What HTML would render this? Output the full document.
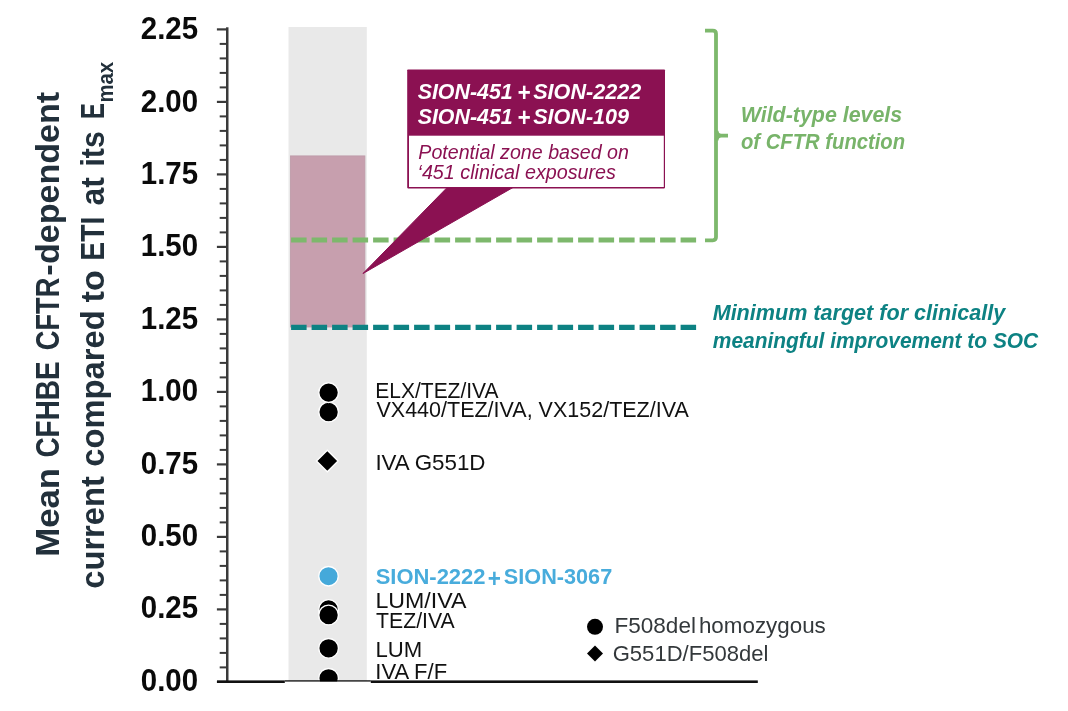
<!DOCTYPE html>
<html><head><meta charset="utf-8"><title>Chart</title>
<style>
html,body{margin:0;padding:0;background:#ffffff;}
body{width:1068px;height:711px;overflow:hidden;font-family:"Liberation Sans",sans-serif;}
svg{display:block;position:absolute;left:0;top:0;will-change:transform;}
svg text{font-family:"Liberation Sans",sans-serif;white-space:pre;}
</style></head>
<body>
<svg width="1068" height="711" viewBox="0 0 1068 711">
<defs><clipPath id="cpx"><rect x="370" y="640" width="200" height="40.4"/></clipPath></defs>
<rect x="288.5" y="27" width="78.3" height="654" fill="#e9e9e9"/>
<rect x="290.4" y="155.9" width="74.5" height="171.1" fill="#c79fae" stroke="#bd9aa8" stroke-width="0.8"/>
<line x1="291.1" y1="240.1" x2="697" y2="240.1" stroke="#7db86c" stroke-width="5" stroke-dasharray="15.5 5"/>
<line x1="291.1" y1="327.4" x2="697" y2="327.4" stroke="#0d8283" stroke-width="5.2" stroke-dasharray="15.5 5"/>
<path d="M705 30.6 H712.8 Q716 30.6 716 33.8 V237.1 Q716 240.3 712.8 240.3 H705" fill="none" stroke="#7db86c" stroke-width="3.8" stroke-linejoin="round"/>
<path d="M716.6 130.8 Q716.6 135.6 721.4 135.6 H728 M716.6 140.4 Q716.6 135.6 721.4 135.6" fill="none" stroke="#7db86c" stroke-width="3.8" stroke-linejoin="round"/>
<rect x="226" y="27.3" width="2.5" height="655.6" fill="#3a3a3a"/>
<rect x="216.9" y="28.30" width="10" height="2.2" fill="#3a3a3a"/>
<rect x="219.7" y="42.90" width="7" height="2.0" fill="#3a3a3a"/>
<rect x="219.7" y="57.40" width="7" height="2.0" fill="#3a3a3a"/>
<rect x="219.7" y="71.90" width="7" height="2.0" fill="#3a3a3a"/>
<rect x="219.7" y="86.40" width="7" height="2.0" fill="#3a3a3a"/>
<rect x="216.9" y="100.80" width="10" height="2.2" fill="#3a3a3a"/>
<rect x="219.7" y="115.40" width="7" height="2.0" fill="#3a3a3a"/>
<rect x="219.7" y="129.90" width="7" height="2.0" fill="#3a3a3a"/>
<rect x="219.7" y="144.40" width="7" height="2.0" fill="#3a3a3a"/>
<rect x="219.7" y="158.90" width="7" height="2.0" fill="#3a3a3a"/>
<rect x="216.9" y="173.30" width="10" height="2.2" fill="#3a3a3a"/>
<rect x="219.7" y="187.90" width="7" height="2.0" fill="#3a3a3a"/>
<rect x="219.7" y="202.40" width="7" height="2.0" fill="#3a3a3a"/>
<rect x="219.7" y="216.90" width="7" height="2.0" fill="#3a3a3a"/>
<rect x="219.7" y="231.40" width="7" height="2.0" fill="#3a3a3a"/>
<rect x="216.9" y="245.80" width="10" height="2.2" fill="#3a3a3a"/>
<rect x="219.7" y="260.40" width="7" height="2.0" fill="#3a3a3a"/>
<rect x="219.7" y="274.90" width="7" height="2.0" fill="#3a3a3a"/>
<rect x="219.7" y="289.40" width="7" height="2.0" fill="#3a3a3a"/>
<rect x="219.7" y="303.90" width="7" height="2.0" fill="#3a3a3a"/>
<rect x="216.9" y="318.30" width="10" height="2.2" fill="#3a3a3a"/>
<rect x="219.7" y="332.90" width="7" height="2.0" fill="#3a3a3a"/>
<rect x="219.7" y="347.40" width="7" height="2.0" fill="#3a3a3a"/>
<rect x="219.7" y="361.90" width="7" height="2.0" fill="#3a3a3a"/>
<rect x="219.7" y="376.40" width="7" height="2.0" fill="#3a3a3a"/>
<rect x="216.9" y="390.80" width="10" height="2.2" fill="#3a3a3a"/>
<rect x="219.7" y="405.40" width="7" height="2.0" fill="#3a3a3a"/>
<rect x="219.7" y="419.90" width="7" height="2.0" fill="#3a3a3a"/>
<rect x="219.7" y="434.40" width="7" height="2.0" fill="#3a3a3a"/>
<rect x="219.7" y="448.90" width="7" height="2.0" fill="#3a3a3a"/>
<rect x="216.9" y="463.30" width="10" height="2.2" fill="#3a3a3a"/>
<rect x="219.7" y="477.90" width="7" height="2.0" fill="#3a3a3a"/>
<rect x="219.7" y="492.40" width="7" height="2.0" fill="#3a3a3a"/>
<rect x="219.7" y="506.90" width="7" height="2.0" fill="#3a3a3a"/>
<rect x="219.7" y="521.40" width="7" height="2.0" fill="#3a3a3a"/>
<rect x="216.9" y="535.80" width="10" height="2.2" fill="#3a3a3a"/>
<rect x="219.7" y="550.40" width="7" height="2.0" fill="#3a3a3a"/>
<rect x="219.7" y="564.90" width="7" height="2.0" fill="#3a3a3a"/>
<rect x="219.7" y="579.40" width="7" height="2.0" fill="#3a3a3a"/>
<rect x="219.7" y="593.90" width="7" height="2.0" fill="#3a3a3a"/>
<rect x="216.9" y="608.30" width="10" height="2.2" fill="#3a3a3a"/>
<rect x="219.7" y="622.90" width="7" height="2.0" fill="#3a3a3a"/>
<rect x="219.7" y="637.40" width="7" height="2.0" fill="#3a3a3a"/>
<rect x="219.7" y="651.90" width="7" height="2.0" fill="#3a3a3a"/>
<rect x="219.7" y="666.40" width="7" height="2.0" fill="#3a3a3a"/>
<rect x="216.9" y="680.80" width="10" height="2.2" fill="#3a3a3a"/>
<text x="140.8" y="39.25" font-size="30.6" font-weight="700" fill="#0a0a0a" textLength="57.3" lengthAdjust="spacingAndGlyphs">2.25</text>
<text x="140.8" y="111.65" font-size="30.6" font-weight="700" fill="#0a0a0a" textLength="57.3" lengthAdjust="spacingAndGlyphs">2.00</text>
<text x="140.8" y="184.05" font-size="30.6" font-weight="700" fill="#0a0a0a" textLength="57.3" lengthAdjust="spacingAndGlyphs">1.75</text>
<text x="140.8" y="256.45" font-size="30.6" font-weight="700" fill="#0a0a0a" textLength="57.3" lengthAdjust="spacingAndGlyphs">1.50</text>
<text x="140.8" y="328.85" font-size="30.6" font-weight="700" fill="#0a0a0a" textLength="57.3" lengthAdjust="spacingAndGlyphs">1.25</text>
<text x="140.8" y="401.25" font-size="30.6" font-weight="700" fill="#0a0a0a" textLength="57.3" lengthAdjust="spacingAndGlyphs">1.00</text>
<text x="140.8" y="473.65" font-size="30.6" font-weight="700" fill="#0a0a0a" textLength="57.3" lengthAdjust="spacingAndGlyphs">0.75</text>
<text x="140.8" y="546.05" font-size="30.6" font-weight="700" fill="#0a0a0a" textLength="57.3" lengthAdjust="spacingAndGlyphs">0.50</text>
<text x="140.8" y="618.45" font-size="30.6" font-weight="700" fill="#0a0a0a" textLength="57.3" lengthAdjust="spacingAndGlyphs">0.25</text>
<text x="140.8" y="690.85" font-size="30.6" font-weight="700" fill="#0a0a0a" textLength="57.3" lengthAdjust="spacingAndGlyphs">0.00</text>
<g transform="translate(59.4 0) rotate(-90)">
<text x="-556.86" y="0" font-size="32.6" font-weight="700" font-style="normal" fill="#22303b" textLength="89.00" lengthAdjust="spacingAndGlyphs">Mean</text>
</g>
<g transform="translate(59.4 0) rotate(-90)">
<text x="-457.62" y="0" font-size="32.6" font-weight="700" font-style="normal" fill="#22303b" textLength="96.32" lengthAdjust="spacingAndGlyphs">CFHBE</text>
</g>
<g transform="translate(59.4 0) rotate(-90)">
<text x="-350.19" y="0" font-size="32.6" font-weight="700" font-style="normal" fill="#22303b" textLength="72.56" lengthAdjust="spacingAndGlyphs">CFTR</text>
</g>
<g transform="translate(59.4 0) rotate(-90)">
<text x="-275.78" y="0" font-size="32.6" font-weight="700" font-style="normal" fill="#22303b" textLength="11.49" lengthAdjust="spacingAndGlyphs">-</text>
</g>
<g transform="translate(59.4 0) rotate(-90)">
<text x="-264.06" y="0" font-size="32.6" font-weight="700" font-style="normal" fill="#22303b" textLength="172.23" lengthAdjust="spacingAndGlyphs">dependent</text>
</g>
<g transform="translate(104.2 0) rotate(-90)">
<text x="-588.71" y="0" font-size="32.6" font-weight="700" font-style="normal" fill="#22303b" textLength="112.51" lengthAdjust="spacingAndGlyphs">current</text>
</g>
<g transform="translate(104.2 0) rotate(-90)">
<text x="-466.71" y="0" font-size="32.6" font-weight="700" font-style="normal" fill="#22303b" textLength="156.31" lengthAdjust="spacingAndGlyphs">compared</text>
</g>
<g transform="translate(104.2 0) rotate(-90)">
<text x="-302.44" y="0" font-size="32.6" font-weight="700" font-style="normal" fill="#22303b" textLength="32.17" lengthAdjust="spacingAndGlyphs">to</text>
</g>
<g transform="translate(104.2 0) rotate(-90)">
<text x="-260.74" y="0" font-size="32.6" font-weight="700" font-style="normal" fill="#22303b" textLength="44.11" lengthAdjust="spacingAndGlyphs">ETI</text>
</g>
<g transform="translate(104.2 0) rotate(-90)">
<text x="-205.46" y="0" font-size="32.6" font-weight="700" font-style="normal" fill="#22303b" textLength="28.41" lengthAdjust="spacingAndGlyphs">at</text>
</g>
<g transform="translate(104.2 0) rotate(-90)">
<text x="-166.62" y="0" font-size="32.6" font-weight="700" font-style="normal" fill="#22303b" textLength="35.40" lengthAdjust="spacingAndGlyphs">its</text>
</g>
<g transform="translate(104.2 0) rotate(-90)">
<text x="-119.04" y="0" font-size="32.6" font-weight="700" font-style="normal" fill="#22303b" textLength="15.82" lengthAdjust="spacingAndGlyphs">E</text>
</g>
<g transform="translate(112.5 0) rotate(-90)">
<text x="-102.62" y="0" font-size="22.5" font-weight="700" font-style="normal" fill="#22303b" textLength="40.76" lengthAdjust="spacingAndGlyphs">max</text>
</g>
<circle cx="328.6" cy="678.3" r="9.85" fill="#000" stroke="#ffffff" stroke-width="1.4"/>
<circle cx="328.6" cy="648.3" r="9.85" fill="#000" stroke="#ffffff" stroke-width="1.4"/>
<circle cx="328.6" cy="609.5" r="9.85" fill="#000" stroke="#ffffff" stroke-width="1.4"/>
<circle cx="328.6" cy="615.0" r="9.85" fill="#000" stroke="#ffffff" stroke-width="1.4"/>
<circle cx="328.5" cy="576.2" r="9.75" fill="#45a9da" stroke="#ffffff" stroke-width="1.4"/>
<path d="M327.3 450.2 L338.1 461 L327.3 471.8 L316.5 461 Z" fill="#000" stroke="#fff" stroke-width="1.4"/>
<circle cx="328.6" cy="412.0" r="9.85" fill="#000" stroke="#ffffff" stroke-width="1.4"/>
<circle cx="328.6" cy="392.6" r="9.85" fill="#000" stroke="#ffffff" stroke-width="1.4"/>
<rect x="284.8" y="681.4" width="86" height="14" fill="#ffffff"/>
<rect x="217" y="680.4" width="67.8" height="2.6" fill="#111"/>
<rect x="284.8" y="680.3" width="86" height="1.25" fill="#000"/>
<rect x="370.8" y="680.4" width="387" height="2.6" fill="#111"/>
<text x="375.32" y="397.9" font-size="22.4" font-weight="400" font-style="normal" fill="#111" textLength="123.23" lengthAdjust="spacingAndGlyphs">ELX/TEZ/IVA</text>
<text x="376.49" y="416.9" font-size="22.4" font-weight="400" font-style="normal" fill="#111" textLength="312.30" lengthAdjust="spacingAndGlyphs">VX440/TEZ/IVA, VX152/TEZ/IVA</text>
<text x="375.39" y="470.0" font-size="22.4" font-weight="400" font-style="normal" fill="#111" textLength="110.10" lengthAdjust="spacingAndGlyphs">IVA G551D</text>
<text x="375.64" y="584.2" font-size="22.6" font-weight="700" font-style="normal" fill="#48acdc" textLength="109.89" lengthAdjust="spacingAndGlyphs">SION-2222</text>
<text x="487.70" y="586.5" font-size="26" font-weight="700" font-style="normal" fill="#48acdc" textLength="13.18" lengthAdjust="spacingAndGlyphs">+</text>
<text x="503.85" y="584.2" font-size="22.6" font-weight="700" font-style="normal" fill="#48acdc" textLength="108.37" lengthAdjust="spacingAndGlyphs">SION-3067</text>
<text x="375.45" y="608.1" font-size="22.4" font-weight="400" font-style="normal" fill="#111" textLength="91.00" lengthAdjust="spacingAndGlyphs">LUM/IVA</text>
<text x="376.08" y="627.6" font-size="22.4" font-weight="400" font-style="normal" fill="#111" textLength="78.61" lengthAdjust="spacingAndGlyphs">TEZ/IVA</text>
<text x="375.53" y="656.5" font-size="22.4" font-weight="400" font-style="normal" fill="#111" textLength="46.78" lengthAdjust="spacingAndGlyphs">LUM</text>
<g clip-path="url(#cpx)">
<text x="375.32" y="678.8" font-size="22.4" font-weight="400" font-style="normal" fill="#111" textLength="71.86" lengthAdjust="spacingAndGlyphs">IVA F/F</text>
</g>
<circle cx="595" cy="626.8" r="8" fill="#000"/>
<path d="M595 645.6 L603 653.6 L595 661.6 L587 653.6 Z" fill="#000"/>
<text x="614.50" y="633.4" font-size="22.4" font-weight="400" font-style="normal" fill="#33383b" textLength="81.46" lengthAdjust="spacingAndGlyphs">F508del</text>
<text x="698.93" y="633.4" font-size="22.4" font-weight="400" font-style="normal" fill="#33383b" textLength="126.85" lengthAdjust="spacingAndGlyphs">homozygous</text>
<text x="612.70" y="660.9" font-size="22.4" font-weight="400" font-style="normal" fill="#33383b" textLength="155.74" lengthAdjust="spacingAndGlyphs">G551D/F508del</text>
<path d="M448.6 186 L515.6 186 L363.0 273.5 Z" fill="#8b1152" stroke="#8b1152" stroke-width="1" stroke-linejoin="round"/>
<rect x="407.2" y="69.5" width="257.8" height="118.9" rx="0.8" fill="#8b1152"/>
<rect x="409.0" y="135.7" width="254.8" height="51.3" fill="#ffffff"/>
<text x="417.68" y="99.1" font-size="22.5" font-weight="700" font-style="italic" fill="#fff" textLength="95.03" lengthAdjust="spacingAndGlyphs">SION-451</text>
<text x="517.16" y="100.9" font-size="25" font-weight="700" font-style="italic" fill="#fff" textLength="13.07" lengthAdjust="spacingAndGlyphs">+</text>
<text x="533.18" y="99.1" font-size="22.5" font-weight="700" font-style="italic" fill="#fff" textLength="108.10" lengthAdjust="spacingAndGlyphs">SION-2222</text>
<text x="417.68" y="123.8" font-size="22.5" font-weight="700" font-style="italic" fill="#fff" textLength="95.03" lengthAdjust="spacingAndGlyphs">SION-451</text>
<text x="517.16" y="125.6" font-size="25" font-weight="700" font-style="italic" fill="#fff" textLength="13.07" lengthAdjust="spacingAndGlyphs">+</text>
<text x="533.18" y="123.8" font-size="22.5" font-weight="700" font-style="italic" fill="#fff" textLength="95.96" lengthAdjust="spacingAndGlyphs">SION-109</text>
<text x="418.31" y="159.4" font-size="20" font-weight="400" font-style="italic" fill="#8b1152" textLength="210.59" lengthAdjust="spacingAndGlyphs">Potential zone based on</text>
<text x="417.53" y="178.6" font-size="20" font-weight="400" font-style="italic" fill="#8b1152" textLength="198.39" lengthAdjust="spacingAndGlyphs">‘451 clinical exposures</text>
<text x="740.70" y="121.7" font-size="21.7" font-weight="700" font-style="italic" fill="#78b46a" textLength="161.53" lengthAdjust="spacingAndGlyphs">Wild-type levels</text>
<text x="740.99" y="148.8" font-size="21.7" font-weight="700" font-style="italic" fill="#78b46a" textLength="164.10" lengthAdjust="spacingAndGlyphs">of CFTR function</text>
<text x="712.67" y="320.4" font-size="21.7" font-weight="700" font-style="italic" fill="#0d8283" textLength="292.54" lengthAdjust="spacingAndGlyphs">Minimum target for clinically</text>
<text x="712.79" y="348.1" font-size="21.7" font-weight="700" font-style="italic" fill="#0d8283" textLength="325.45" lengthAdjust="spacingAndGlyphs">meaningful improvement to SOC</text>
</svg>
</body></html>
